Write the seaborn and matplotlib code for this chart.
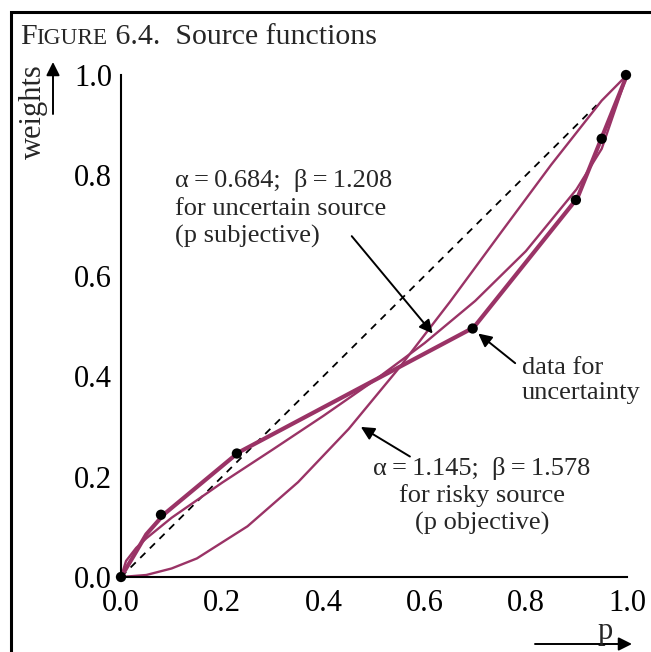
import matplotlib
matplotlib.use("Agg")
import matplotlib.pyplot as plt
import seaborn as sns
from matplotlib.patches import Rectangle

# ---------------- data ----------------
risky_p = [0.0, 0.05, 0.10, 0.15, 0.25, 0.35, 0.45, 0.55, 0.65, 0.75, 0.85, 0.95, 1.0]
risky_w = [0.0, 0.004, 0.017, 0.037, 0.101, 0.189, 0.295, 0.417, 0.548, 0.685, 0.821, 0.949, 1.0]

uncert_p = [0.0, 0.01, 0.03, 0.05, 0.10, 0.20, 0.30, 0.40, 0.50, 0.60, 0.70, 0.80, 0.90, 0.95, 1.0]
uncert_w = [0.0, 0.032, 0.058, 0.077, 0.118, 0.188, 0.254, 0.321, 0.391, 0.466, 0.550, 0.649, 0.772, 0.853, 1.0]

data_line_p = [0.0, 0.025, 0.05, 0.085, 0.232, 0.697, 0.902, 1.0]
data_line_w = [0.0, 0.042, 0.085, 0.125, 0.248, 0.497, 0.755, 1.0]

data_p = [0.0, 0.079, 0.229, 0.695, 0.899, 0.950, 0.998]
data_w = [0.0, 0.124, 0.246, 0.495, 0.751, 0.873, 1.0]

diag_p = [0.0, 0.94]
diag_w = [0.0, 0.94]

ticks = [0.0, 0.2, 0.4, 0.6, 0.8, 1.0]
tick_labels = ["0.0", "0.2", "0.4", "0.6", "0.8", "1.0"]

title_parts = ["F", "IGURE", " 6.4.  Source functions"]
label_uncert = ["\u03b1\u2009=\u20090.684;  \u03b2\u2009=\u20091.208", "for uncertain source", "(p subjective)"]
label_risky = ["\u03b1\u2009=\u20091.145;  \u03b2\u2009=\u20091.578", "for risky source", "(p objective)"]
label_data = ["data for", "uncertainty"]

# ---------------- style ----------------
sns.set_theme(style="white")
plt.rcParams["font.family"] = ["Liberation Serif", "DejaVu Serif"]

PURPLE = "#9A3366"
FS = 19        # annotation text
FS_TICK = 22   # tick labels / axis labels
FS_TITLE = 21.5
W, H = 651, 652

fig = plt.figure(figsize=(W / 100, H / 100), dpi=100)
ax = fig.add_axes([121 / W, 1 - 577 / H, 506 / W, 502 / H])

def px(x, y):
    """image pixel (top-left origin) -> figure fraction"""
    return x / W, 1 - y / H

sns.lineplot(x=diag_p, y=diag_w, ax=ax, color="black", lw=1.3,
             linestyle=(0, (4, 3.5)), estimator=None, sort=False)
sns.lineplot(x=risky_p, y=risky_w, ax=ax, color=PURPLE, lw=1.7,
             estimator=None, sort=False)
sns.lineplot(x=uncert_p, y=uncert_w, ax=ax, color=PURPLE, lw=1.7,
             estimator=None, sort=False)
sns.lineplot(x=data_line_p, y=data_line_w, ax=ax, color=PURPLE, lw=3.0,
             estimator=None, sort=False)
sns.scatterplot(x=data_p, y=data_w, ax=ax, color="black", s=55,
                edgecolor="none", zorder=6, clip_on=False)
for ln in ax.lines:
    ln.set_clip_on(False)

ax.set_xlim(0, 1)
ax.set_ylim(0, 1)
ax.set_xticks(ticks)
ax.set_xticklabels(tick_labels)
ax.set_yticks(ticks)
ax.set_yticklabels(tick_labels)
ax.tick_params(direction="inout", length=11, width=1.3, labelsize=FS_TICK,
               colors="black")
ax.xaxis.set_tick_params(pad=3)
ax.yaxis.set_tick_params(pad=1)
for s in ["top", "right"]:
    ax.spines[s].set_visible(False)
for s in ["left", "bottom"]:
    ax.spines[s].set_color("black")
    ax.spines[s].set_linewidth(1.5)
ax.set_xlabel("")
ax.set_ylabel("")
ax.patch.set_alpha(0)

# annotations
arrow_kw = dict(arrowstyle="-|>", color="black", lw=1.4, mutation_scale=20,
                shrinkA=0, shrinkB=0)

for i, t in enumerate(label_uncert):
    ax.text(0.107, 0.776 - i * 0.055, t, fontsize=FS, ha="left", va="baseline")
ax.annotate("", xy=(0.616, 0.485), xytext=(0.456, 0.679), arrowprops=arrow_kw)

for i, t in enumerate(label_risky):
    ax.text(0.713, 0.203 - i * 0.054, t, fontsize=FS, ha="center", va="baseline")
ax.annotate("", xy=(0.474, 0.299), xytext=(0.571, 0.240), arrowprops=arrow_kw)

for i, t in enumerate(label_data):
    ax.text(0.792, 0.405 - i * 0.05, t, fontsize=FS, ha="left", va="baseline")
ax.annotate("", xy=(0.706, 0.485), xytext=(0.779, 0.426), arrowprops=arrow_kw)

# axis labels with arrows
fig.text(*px(33, 112), "weights", rotation=90, ha="center", va="center", fontsize=FS_TICK)
fig.add_artist(plt.Annotation("", xy=px(53, 62), xytext=px(53, 114),
                              xycoords="figure fraction", textcoords="figure fraction",
                              arrowprops=arrow_kw))
fig.text(*px(605, 639), "p", ha="center", va="baseline", fontsize=FS_TICK)
fig.add_artist(plt.Annotation("", xy=px(632, 644), xytext=px(535, 644),
                              xycoords="figure fraction", textcoords="figure fraction",
                              arrowprops=arrow_kw))

# frame
fig.add_artist(Rectangle(px(11, 700), 2.0, (700 - 12) / H, transform=fig.transFigure,
                         fill=False, edgecolor="black", lw=2.2))

# title with small caps
fig.canvas.draw()
r = fig.canvas.get_renderer()
x = 20
sizes = [FS_TITLE, FS_TITLE * 0.78, FS_TITLE]
for t, s in zip(title_parts, sizes):
    txt = fig.text(*px(x, 44), t, fontsize=s, ha="left", va="baseline")
    bb = txt.get_window_extent(renderer=r)
    x += bb.width

fig.savefig("out.png", dpi=100)
